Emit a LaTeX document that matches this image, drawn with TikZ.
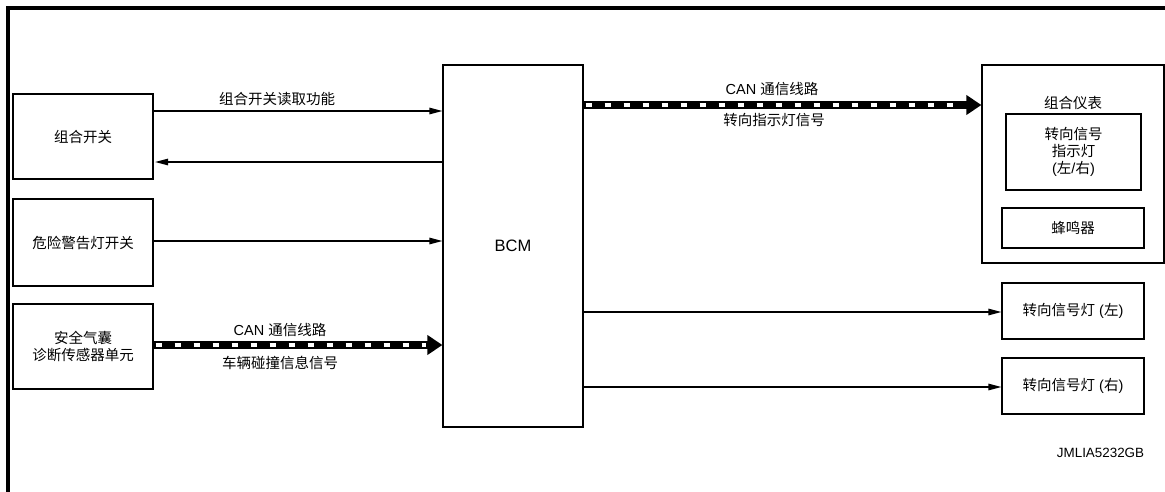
\documentclass[tikz,border=0pt]{standalone}
\usepackage{fontspec}
\setmainfont{Liberation Sans}
\newfontfamily\cjk{Noto Sans CJK SC}
\newcommand\zh[1]{{\cjk #1}}
\newcommand\lblfont{\fontsize{14.5}{17}\selectfont}
\usetikzlibrary{arrows.meta}
\begin{document}
\begin{tikzpicture}[x=1pt,y=-1pt,
  box/.style={draw, line width=1.2pt, inner sep=0pt, align=center, font=\lblfont},
  lbl/.style={inner sep=0pt, align=center, font=\lblfont},
  arr/.style={line width=1.2pt, -{Triangle[length=13pt,width=6.5pt]}},
  can/.style={line width=8pt, -{Triangle[length=15pt,width=19pt]},
    postaction={draw=white, line width=3.5pt, -, dash pattern=on 6pt off 13pt, dash phase=-2pt, shorten >=16pt}}]
\useasboundingbox (0,0) rectangle (1165,491);
\clip (0,0) rectangle (1165,491);
% outer frame (cropped)
\draw[line width=3.5pt] (8,500) -- (8,8) -- (1175,8);
% left boxes
\node[box, minimum width=140pt, minimum height=85pt] (sw) at (83,136.5) {\zh{组合开关}};
\node[box, minimum width=140pt, minimum height=87pt] (hz) at (83,242.5) {\zh{危险警告灯开关}};
\node[box, minimum width=140pt, minimum height=85pt] (ab) at (83,346.5) {\zh{安全气囊}\\\zh{诊断传感器单元}};
% BCM
\node[box, minimum width=140pt, minimum height=362pt, font=\fontsize{16.5}{20}\selectfont] (bcm) at (513,246) {BCM};
% combination meter
\node[draw, line width=1.2pt, minimum width=182pt, minimum height=198pt, inner sep=0pt] (meter) at (1073,164) {};
\node[lbl] (metl) at (1073,103) {\zh{组合仪表}};
\node[box, minimum width=135pt, minimum height=76pt] (ind) at (1073.5,152) {\zh{转向信号}\\\zh{指示灯}\\(\zh{左}/\zh{右})};
\node[box, minimum width=142pt, minimum height=40pt] (buz) at (1073,228) {\zh{蜂鸣器}};
% turn lamps
\node[box, minimum width=142pt, minimum height=56pt] (tl) at (1073,311) {\zh{转向信号灯} (\zh{左})};
\node[box, minimum width=142pt, minimum height=56pt] (tr) at (1073,386) {\zh{转向信号灯} (\zh{右})};
% connectors
\draw[arr] (sw.east |- 0,111) -- (bcm.west |- 0,111);
\draw[arr, shorten >=1.5pt] (bcm.west |- 0,162) -- (sw.east |- 0,162);
\draw[arr] (hz.east |- 0,241) -- (bcm.west |- 0,241);
\draw[can] (ab.east |- 0,345) -- (bcm.west |- 0,345);
\draw[can] (bcm.east |- 0,105) -- (meter.west |- 0,105);
\draw[arr] (bcm.east |- 0,312) -- (tl.west |- 0,312);
\draw[arr] (bcm.east |- 0,387) -- (tr.west |- 0,387);
% connector labels
\node[lbl] (l1) at (277,98.5) {\zh{组合开关读取功能}};
\node[lbl] (l2) at (280,330) {CAN \zh{通信线路}};
\node[lbl] (l3) at (280,363) {\zh{车辆碰撞信息信号}};
\node[lbl] (l4) at (772,89) {CAN \zh{通信线路}};
\node[lbl] (l5) at (774,120) {\zh{转向指示灯信号}};
% code
\node[inner sep=0pt, font=\fontsize{13.4}{16}\selectfont] (code) at (1100.5,453) {JMLIA5232GB};
\end{tikzpicture}
\end{document}
